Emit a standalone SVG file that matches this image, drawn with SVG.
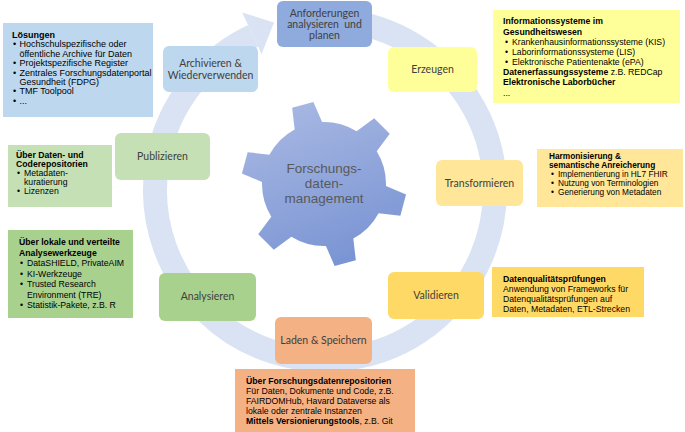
<svg xmlns="http://www.w3.org/2000/svg" width="685" height="432" viewBox="0 0 685 432">
<style>
.step text { font-family: Lato, "Liberation Sans", sans-serif; font-size: 10.5px; fill: #404040; text-anchor: middle; white-space: pre; }
.info text { font-family: "Liberation Sans", Arial, sans-serif; font-size: 8.7px; fill: #000; }
#loesungen text { font-size: 9px; }
#harmonisierung text { font-size: 8.3px; }
.b { font-weight: bold; }
.ring { fill: none; stroke: #dae3f3; stroke-width: 24; }
.gear-text { font-family: "Liberation Sans", Arial, sans-serif; font-size: 13.5px; fill: #595959; text-anchor: middle; }
</style>
<defs>
<linearGradient id="gearGrad" x1="0" y1="0" x2="0.4" y2="1">
<stop offset="0" stop-color="#aebde4"/>
<stop offset="1" stop-color="#7b95d4"/>
</linearGradient>
<clipPath id="gearClip">
<circle cx="324" cy="184" r="62"/>
<polygon points="-11,-82 11,-82 15,-55 -15,-55" transform="translate(324,184) rotate(45)"/>
<polygon points="-11,-82 11,-82 15,-55 -15,-55" transform="translate(324,184) rotate(105)"/>
<polygon points="-11,-82 11,-82 15,-55 -15,-55" transform="translate(324,184) rotate(165)"/>
<polygon points="-11,-82 11,-82 15,-55 -15,-55" transform="translate(324,184) rotate(225)"/>
<polygon points="-11,-82 11,-82 15,-55 -15,-55" transform="translate(324,184) rotate(285)"/>
<polygon points="-11,-82 11,-82 15,-55 -15,-55" transform="translate(324,184) rotate(345)"/>
</clipPath>
</defs>
<rect width="685" height="432" fill="#ffffff"/>

<g id="connectors">
<path class="ring" d="M 330.9 20.1 A 170 170 0 1 1 253.2 35.9"/>
<polygon points="242.2,12.4 274,22.5 261.6,54.1" fill="#dae3f3"/>
</g>

<g id="gear">
<rect x="230" y="95" width="190" height="180" fill="url(#gearGrad)" clip-path="url(#gearClip)"/>
<text class="gear-text" x="324" y="173">Forschungs-</text>
<text class="gear-text" x="324" y="188">daten-</text>
<text class="gear-text" x="324" y="203">management</text>
</g>

<g id="anforderungen" class="step">
<rect x="277" y="1" width="95" height="46" rx="6" fill="#8faadc"/>
<text x="324.5" y="17">Anforderungen</text>
<text x="324.5" y="28">analysieren  und</text>
<text x="324.5" y="39">planen</text>
</g>
<g id="erzeugen" class="step">
<rect x="388" y="47" width="89" height="45" rx="6" fill="#ffff99"/>
<text x="432.5" y="73">Erzeugen</text>
</g>
<g id="transformieren" class="step">
<rect x="436" y="160" width="87" height="46" rx="6" fill="#ffe699"/>
<text x="479.5" y="186.5">Transformieren</text>
</g>
<g id="validieren" class="step">
<rect x="388" y="272" width="96" height="47" rx="6" fill="#ffd966"/>
<text x="436" y="299">Validieren</text>
</g>
<g id="laden" class="step">
<rect x="275" y="317" width="97" height="47" rx="6" fill="#f4b183"/>
<text x="323.5" y="344">Laden &amp; Speichern</text>
</g>
<g id="analysieren" class="step">
<rect x="159" y="273" width="97" height="48" rx="6" fill="#a9d18e"/>
<text x="207.5" y="300">Analysieren</text>
</g>
<g id="publizieren" class="step">
<rect x="115" y="133" width="95" height="47" rx="6" fill="#c5e0b4"/>
<text x="162.5" y="160">Publizieren</text>
</g>
<g id="archivieren" class="step">
<rect x="163" y="46" width="95" height="46" rx="6" fill="#bdd7ee"/>
<text x="210.5" y="67">Archivieren &amp;</text>
<text x="210.5" y="79">Wiederverwenden</text>
</g>

<g id="loesungen" class="info">
<rect x="3" y="23" width="150" height="94" fill="#bdd7ee"/>
<text x="12" y="38" class="b">Lösungen</text>
<text x="13" y="47.4">•</text><text x="19.5" y="47.4">Hochschulspezifische oder</text>
<text x="19.5" y="56.8">öffentliche Archive für Daten</text>
<text x="13" y="66.2">•</text><text x="19.5" y="66.2">Projektspezifische Register</text>
<text x="13" y="75.6">•</text><text x="19.5" y="75.6">Zentrales Forschungsdatenportal</text>
<text x="19.5" y="85">Gesundheit (FDPG)</text>
<text x="13" y="94.4">•</text><text x="19.5" y="94.4">TMF Toolpool</text>
<text x="13" y="103.8">•</text><text x="19.5" y="103.8">...</text>
</g>

<g id="informationssysteme" class="info">
<rect x="493" y="10" width="187" height="93" fill="#ffff99"/>
<text x="503" y="24" class="b">Informationssysteme im</text>
<text x="503" y="35" class="b">Gesundheitswesen</text>
<text x="505" y="45">•</text><text x="512" y="45">Krankenhausinformationssysteme (KIS)</text>
<text x="505" y="55">•</text><text x="512" y="55">Laborinformationssysteme (LIS)</text>
<text x="505" y="65">•</text><text x="512" y="65">Elektronische Patientenakte (ePA)</text>
<text x="503" y="75"><tspan class="b">Datenerfassungssysteme</tspan> z.B. REDCap</text>
<text x="503" y="85" class="b">Elektronische Laborbücher</text>
<text x="503" y="96">...</text>
</g>

<g id="harmonisierung" class="info">
<rect x="537" y="149" width="146" height="58" fill="#ffe699"/>
<text x="549" y="159" class="b">Harmonisierung &amp;</text>
<text x="549" y="168" class="b">semantische Anreicherung</text>
<text x="551" y="177">•</text><text x="558" y="177">Implementierung in HL7 FHIR</text>
<text x="551" y="186">•</text><text x="558" y="186">Nutzung von Terminologien</text>
<text x="551" y="195">•</text><text x="558" y="195">Generierung von Metadaten</text>
</g>

<g id="datenqualitaet" class="info">
<rect x="492" y="267" width="152" height="50" fill="#ffd966"/>
<text x="503" y="282" class="b">Datenqualitätsprüfungen</text>
<text x="503" y="292">Anwendung von Frameworks für</text>
<text x="503" y="302">Datenqualitätsprüfungen auf</text>
<text x="503" y="312">Daten, Metadaten, ETL-Strecken</text>
</g>

<g id="repositorien" class="info">
<rect x="235" y="369" width="180" height="63" fill="#f4b183"/>
<text x="246" y="384" class="b">Über Forschungsdatenrepositorien</text>
<text x="246" y="394">Für Daten, Dokumente und Code, z.B.</text>
<text x="246" y="404">FAIRDOMHub, Havard Dataverse als</text>
<text x="246" y="414">lokale oder zentrale Instanzen</text>
<text x="246" y="424"><tspan class="b">Mittels Versionierungstools</tspan>, z.B. Git</text>
</g>

<g id="analysewerkzeuge" class="info">
<rect x="8" y="230" width="125" height="88" fill="#a9d18e"/>
<text x="19" y="245" class="b">Über lokale und verteilte</text>
<text x="19" y="255.5" class="b">Analysewerkzeuge</text>
<text x="20" y="266">•</text><text x="27" y="266">DataSHIELD, PrivateAIM</text>
<text x="20" y="276.5">•</text><text x="27" y="276.5">KI-Werkzeuge</text>
<text x="20" y="287">•</text><text x="27" y="287">Trusted Research</text>
<text x="27" y="297.5">Environment (TRE)</text>
<text x="20" y="308">•</text><text x="27" y="308">Statistik-Pakete, z.B. R</text>
</g>

<g id="coderepositorien" class="info">
<rect x="8" y="145" width="104" height="62" fill="#c5e0b4"/>
<text x="16" y="158" class="b">Über Daten- und</text>
<text x="16" y="167" class="b">Coderepositorien</text>
<text x="17" y="176">•</text><text x="24" y="176">Metadaten-</text>
<text x="24" y="185">kuratierung</text>
<text x="17" y="194">•</text><text x="24" y="194">Lizenzen</text>
</g>
</svg>
